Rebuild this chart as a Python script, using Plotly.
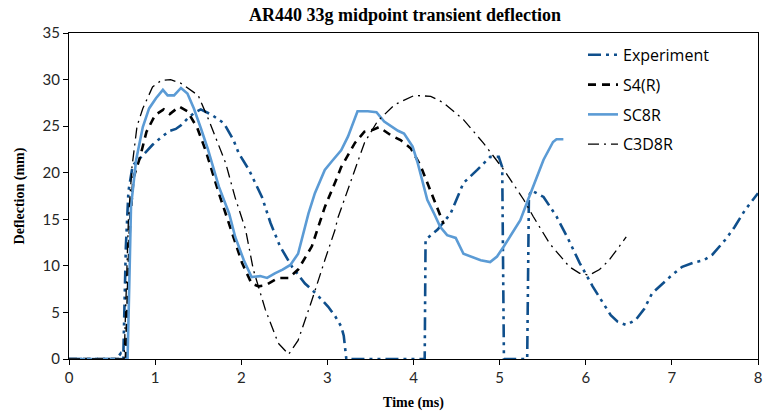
import plotly.graph_objects as go

# ---------------- data ----------------
exp_t = [0, 0.3, 0.55, 0.6, 0.62, 0.63, 0.64, 0.66, 0.69, 0.74, 0.84, 0.97, 1.07, 1.17, 1.24, 1.30,
         1.375, 1.45, 1.53, 1.66, 1.80, 1.91, 1.97, 2.09, 2.24, 2.34, 2.45, 2.59, 2.74, 2.86, 3.01,
         3.09, 3.16, 3.19, 3.22, 3.5, 3.8, 4.13, 4.14, 4.28, 4.43, 4.58, 4.74, 4.89, 4.99, 5.03, 5.05,
         5.2, 5.32, 5.34, 5.37, 5.51, 5.66, 5.79, 5.93, 6.08, 6.2, 6.29, 6.37, 6.47, 6.58, 6.68, 6.77,
         6.89, 7.0, 7.12, 7.27, 7.37, 7.47, 7.62, 7.73, 7.85, 7.98, 8.0]
exp_d = [0, 0, 0, 0.6, 0.3, 0, 4, 12, 18, 20.8, 21.7, 23.0, 23.8, 24.5, 24.7, 25.1,
         25.8, 26.4, 26.8, 26.2, 25.3, 23.5, 22.1, 20.3, 17.4, 14.6, 12.1, 9.9, 8.1, 7.1, 5.6,
         4.6, 3.5, 2.5, 0, 0, 0, 0, 12.8, 13.9, 15.6, 18.9, 20.3, 21.7, 21.7, 20.6, 0,
         0, 0, 17.5, 18.1, 17.4, 15.3, 13.0, 10.3, 7.8, 6.0, 4.7, 4.0, 3.65, 4.2, 5.4, 7.05,
         8.1, 9.0, 9.9, 10.4, 10.6, 11.2, 12.8, 14.2, 16.0, 17.6, 17.8]

s4_t = [0, 0.66, 0.68, 0.71, 0.75, 0.82, 0.9, 1.0, 1.1, 1.17, 1.28, 1.375, 1.49, 1.59, 1.74, 1.89,
        2.01, 2.12, 2.2, 2.28, 2.43, 2.55, 2.66, 2.82, 2.97, 3.10, 3.16, 3.32, 3.43, 3.53, 3.60,
        3.74, 3.85, 3.97, 4.08, 4.2, 4.31, 4.35]
s4_d = [0, 0, 6, 15, 19.5, 21.5, 24.4, 26.2, 26.8, 26.3, 27.1, 26.6, 24.8, 22.3, 17.8, 13.5,
        10.3, 8.1, 7.8, 7.9, 8.7, 8.7, 9.6, 12.1, 16.3, 19.2, 20.6, 23.2, 24.4, 24.6, 24.9,
        24.0, 23.5, 22.6, 20.8, 18.0, 15.3, 14.5]

sc8_t = [0, 0.68, 0.70, 0.72, 0.78, 0.857, 0.93, 1.01, 1.09, 1.145, 1.22, 1.30, 1.375, 1.45, 1.53,
         1.61, 1.74, 1.86, 1.93, 2.03, 2.12, 2.22, 2.30, 2.39, 2.48, 2.57, 2.66, 2.78, 2.855, 2.97,
         3.05, 3.16, 3.24, 3.30, 3.35, 3.47, 3.57, 3.66, 3.82, 3.89, 3.99, 4.05, 4.16, 4.24, 4.31,
         4.39, 4.49, 4.58, 4.66, 4.78, 4.89, 4.97, 5.05, 5.12, 5.24, 5.33, 5.43, 5.51, 5.62, 5.66, 5.74]
sc8_d = [0, 0, 8, 16.4, 21.4, 24.9, 26.9, 28.0, 28.9, 28.3, 28.3, 29.1, 28.5, 26.9, 24.8,
         22.6, 18.5, 15.6, 13.1, 10.6, 8.8, 8.9, 8.7, 9.2, 9.6, 10.1, 11.3, 15.6, 17.8, 20.3,
         21.2, 22.4, 23.9, 25.3, 26.6, 26.6, 26.5, 25.5, 24.5, 24.2, 22.8, 21.0, 17.1, 15.6, 14.2,
         13.3, 13.0, 11.3, 11.0, 10.6, 10.4, 11.0, 12.1, 13.1, 14.9, 17.1, 19.6, 21.4, 23.3, 23.6, 23.6]

c3_t = [0, 0.64, 0.66, 0.69, 0.73, 0.79, 0.857, 0.97, 1.07, 1.18, 1.3, 1.40, 1.5, 1.63, 1.74, 1.82,
        1.93, 2.05, 2.14, 2.28, 2.43, 2.55, 2.66, 2.82, 2.97, 3.09, 3.12, 3.28, 3.43, 3.58, 3.78,
        4.01, 4.2, 4.35, 4.58, 4.81, 4.93, 5.05, 5.28, 5.39, 5.58, 5.66, 5.81, 5.93, 6.04, 6.16,
        6.27, 6.39, 6.47]
c3_d = [0, 0, 6, 15, 20.5, 25, 26.9, 29.2, 29.9, 30.0, 29.6, 28.9, 28.3, 25.5, 23.0, 21.0,
        17.3, 13.9, 9.6, 5.3, 1.7, 0.5, 2.0, 6.3, 10.6, 13.9, 15.1, 19.2, 23.2, 25.5, 27.3,
        28.3, 28.2, 27.5, 25.7, 23.2, 21.7, 20.3, 17.1, 15.3, 12.4, 11.5, 9.9, 9.2, 9.0, 9.6,
        10.6, 12.1, 13.1]

names = ["Experiment", "S4(R)", "SC8R", "C3D8R"]
x_ticks = [0, 1, 2, 3, 4, 5, 6, 7, 8]
y_ticks = [0, 5, 10, 15, 20, 25, 30, 35]

# ---------------- figure ----------------
fig = go.Figure()
fig.add_trace(go.Scatter(x=exp_t, y=exp_d, mode="lines", name=names[0], legendgroup="a",
                         line=dict(color="#0F4F8C", width=2.6, dash="13px,5px,3px,5px,3px,5px")))
fig.add_trace(go.Scatter(x=s4_t, y=s4_d, mode="lines", name=names[1], legendgroup="b",
                         line=dict(color="#000000", width=2.6, dash="8px,6px")))
fig.add_trace(go.Scatter(x=sc8_t, y=sc8_d, mode="lines", name=names[2], legendgroup="c",
                         line=dict(color="#5B9BD5", width=2.6)))
fig.add_trace(go.Scatter(x=c3_t, y=c3_d, mode="lines", name=names[3], legendgroup="d",
                         line=dict(color="#000000", width=1.3, dash="11px,5px,2px,5px")))

tickfont = dict(family="Lato, sans-serif", size=15, color="#262626")
fig.update_layout(
    width=764, height=414,
    margin=dict(l=69, r=6, t=33, b=55),
    paper_bgcolor="white", plot_bgcolor="white",
    title=dict(text="<b>AR440 33g midpoint transient deflection</b>",
               font=dict(family="Liberation Serif, serif", size=18, color="#000"),
               x=405 / 764, xref="container", xanchor="center",
               y=1 - 15 / 414, yref="container", yanchor="middle"),
    legend=dict(x=0.746, y=0.985, xanchor="left", yanchor="top",
                font=dict(family="Open Sans, sans-serif", size=16, color="#000"),
                bgcolor="rgba(0,0,0,0)", tracegroupgap=6),
    showlegend=True,
)
fig.update_xaxes(range=[0, 8], tickvals=x_ticks, ticktext=[str(v) for v in x_ticks],
                 showgrid=False, zeroline=False, showline=True, mirror=True,
                 linecolor="#000", linewidth=1.3, ticks="outside", ticklen=5,
                 tickcolor="#000", tickfont=tickfont, ticklabeloverflow="allow",
                 automargin=False,
                 title=dict(text="<b>Time (ms)</b>", standoff=12,
                            font=dict(family="Liberation Serif, serif", size=14, color="#000")))
fig.update_yaxes(range=[0, 35], tickvals=y_ticks, ticktext=[str(v) for v in y_ticks],
                 showgrid=False, zeroline=False, showline=True, mirror=True,
                 linecolor="#000", linewidth=1.3, ticks="outside", ticklen=5,
                 tickcolor="#000", tickfont=tickfont, automargin=False,
                 title=dict(text="<b>Deflection (mm)</b>", standoff=14,
                            font=dict(family="Liberation Serif, serif", size=14, color="#000")))

fig.write_html("out.html")
